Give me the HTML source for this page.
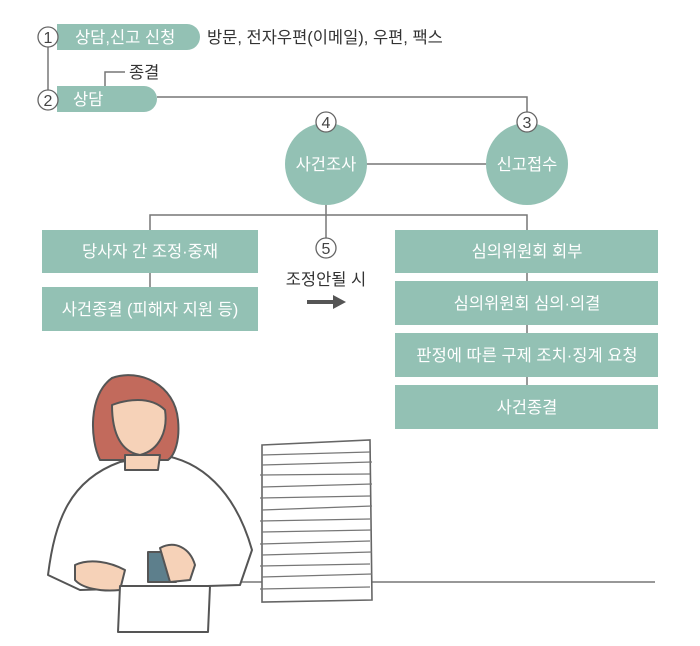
<!DOCTYPE html>
<html><head><meta charset="utf-8"><style>
body{margin:0;background:#fff;}
svg{display:block;}
text{font-family:"Liberation Sans","Noto Sans CJK KR",sans-serif;}
</style></head><body>
<svg width="700" height="646" viewBox="0 0 700 646" xmlns="http://www.w3.org/2000/svg">
<g stroke="#777" stroke-width="1.5" fill="none">
<line x1="48" y1="47" x2="48" y2="90"/>
<polyline points="105,86 105,72 125,72"/>
<polyline points="157,97 527,97 527,112"/>
<line x1="366" y1="164" x2="486" y2="164"/>
<line x1="326" y1="205" x2="326" y2="238"/>
<polyline points="150,230 150,215 527,215 527,230"/>
<line x1="150" y1="273" x2="150" y2="287"/>
<line x1="527" y1="273" x2="527" y2="385"/>
</g>
<g fill="#93c1b4">
<path d="M57,24 H187 A13,13 0 0 1 187,50 H57 Z"/>
<path d="M57,86 H144 A13,13 0 0 1 144,112 H57 Z"/>
<circle cx="326" cy="164" r="41"/>
<circle cx="527" cy="164" r="41"/>
<rect x="42" y="230" width="216" height="43"/>
<rect x="42" y="287" width="216" height="44"/>
<rect x="395" y="230" width="263" height="43"/>
<rect x="395" y="281" width="263" height="44"/>
<rect x="395" y="333" width="263" height="44"/>
<rect x="395" y="385" width="263" height="44"/>
</g>
<g fill="#fff" stroke="#666" stroke-width="1.3">
<circle cx="48" cy="37" r="10"/>
<circle cx="48" cy="100" r="10"/>
<circle cx="326" cy="122" r="10"/>
<circle cx="527" cy="122" r="10"/>
<circle cx="326" cy="248" r="10"/>
</g>
<g font-size="16" fill="#444" text-anchor="middle">
<text x="48" y="43">1</text><text x="48" y="106">2</text>
<text x="326" y="128">4</text><text x="527" y="128">3</text>
<text x="326" y="254">5</text>
</g>
<g font-size="16.5" fill="#fff">
<text x="75" y="43">상담,신고 신청</text>
<text x="73" y="105">상담</text>
<text x="326" y="170" text-anchor="middle">사건조사</text>
<text x="527" y="170" text-anchor="middle">신고접수</text>
<g text-anchor="middle" font-size="16.5">
<text x="150" y="257">당사자 간 조정·중재</text>
<text x="150" y="315">사건종결 (피해자 지원 등)</text>
<text x="527" y="257">심의위원회 회부</text>
<text x="527" y="309">심의위원회 심의·의결</text>
<text x="527" y="361">판정에 따른 구제 조치·징계 요청</text>
<text x="527" y="413">사건종결</text>
</g>
</g>
<g font-size="16.5" fill="#333">
<text x="207" y="43">방문, 전자우편(이메일), 우편, 팩스</text>
<text x="129" y="78">종결</text>
<text x="326" y="285" text-anchor="middle">조정안될 시</text>
</g>
<path d="M307,300 H333 V295 L346,302 L333,309 V304 H307 Z" fill="#555"/>
<!-- illustration -->
<line x1="130" y1="582" x2="655" y2="582" stroke="#777" stroke-width="1.5"/>
<g stroke="#555" stroke-width="2" stroke-linejoin="round">
<path d="M48,575 C55,520 70,480 120,462 L160,455 C200,460 235,490 252,550 L240,585 L80,590 Z" fill="#fff"/>
<path d="M112,378 C140,368 175,385 178,420 C180,440 175,455 168,460 L100,460 C90,440 88,395 112,378 Z" fill="#c26a5c"/>
<path d="M112,405 C125,400 150,395 165,410 C168,430 160,450 140,455 C122,452 112,435 112,405 Z" fill="#f6d2b8"/>
<path d="M125,455 L160,455 L158,470 L125,470 Z" fill="#f6d2b8"/>
<path d="M75,565 C90,558 110,562 125,570 L120,590 C100,592 82,588 75,580 Z" fill="#f6d2b8"/>
<rect x="148" y="552" width="28" height="30" fill="#5d7f8c"/>
<path d="M160,548 C175,540 190,548 195,565 L190,580 L170,582 Z" fill="#f6d2b8"/>
<path d="M120,586 L210,586 L208,632 L118,632 Z" fill="#fff"/>
</g>
<g stroke="#666" stroke-width="1.6" fill="#fff">
<path d="M262,445 L370,440 L372,600 L262,602 Z"/>
</g>
<g stroke="#777" stroke-width="1.3">
<line x1="262" y1="455" x2="370" y2="452"/><line x1="262" y1="465" x2="372" y2="462"/>
<line x1="260" y1="475" x2="370" y2="474"/><line x1="262" y1="487" x2="372" y2="484"/>
<line x1="260" y1="498" x2="370" y2="496"/><line x1="262" y1="510" x2="372" y2="506"/>
<line x1="260" y1="521" x2="370" y2="519"/><line x1="262" y1="532" x2="372" y2="530"/>
<line x1="260" y1="544" x2="370" y2="541"/><line x1="262" y1="555" x2="372" y2="552"/>
<line x1="260" y1="566" x2="370" y2="564"/><line x1="262" y1="577" x2="372" y2="574"/>
<line x1="260" y1="589" x2="370" y2="587"/>
</g>
</svg>
</body></html>
